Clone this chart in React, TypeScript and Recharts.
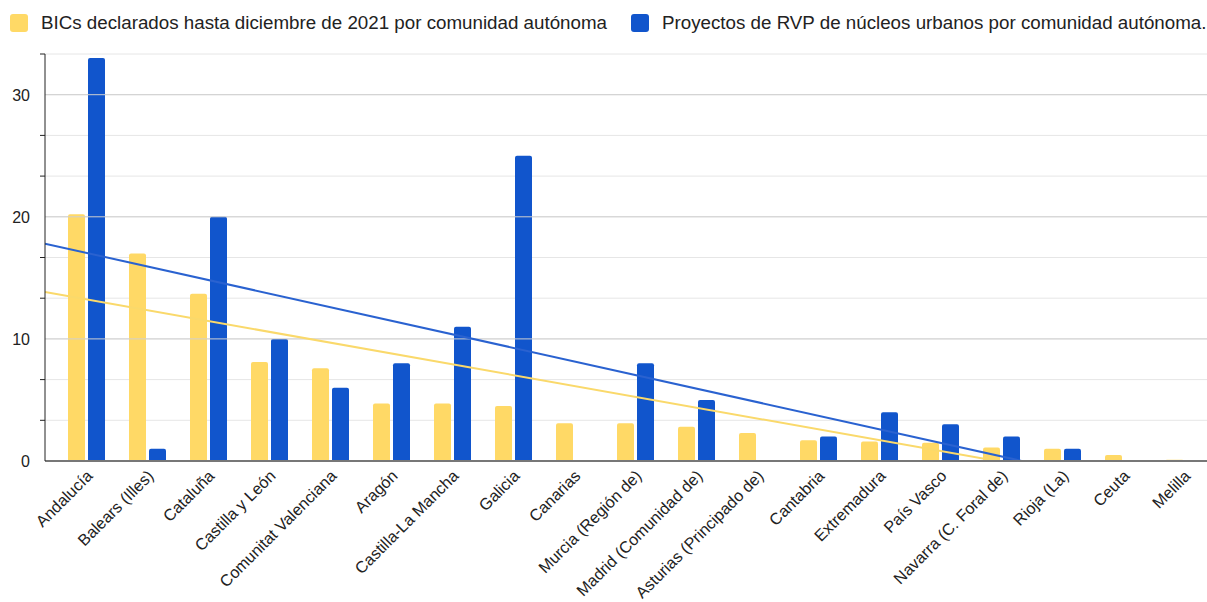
import {
    Bar,
    CartesianGrid,
    ComposedChart,
    Line,
    ReferenceLine,
    XAxis,
    YAxis,
} from "recharts";

// comunidades autónomas, en el orden del gráfico
const comunidades = [
    "Andalucía",
    "Balears (Illes)",
    "Cataluña",
    "Castilla y León",
    "Comunitat Valenciana",
    "Aragón",
    "Castilla-La Mancha",
    "Galicia",
    "Canarias",
    "Murcia (Región de)",
    "Madrid (Comunidad de)",
    "Asturias (Principado de)",
    "Cantabria",
    "Extremadura",
    "País Vasco",
    "Navarra (C. Foral de)",
    "Rioja (La)",
    "Ceuta",
    "Melilla",
];

const bics = [20.2, 17, 13.7, 8.1, 7.6, 4.7, 4.7, 4.5, 3.1, 3.1, 2.8, 2.3, 1.7, 1.6, 1.5, 1.1, 1.0, 0.5, 0.1];
const rvp = [33, 1, 20, 10, 6, 8, 11, 25, 0, 8, 5, 0, 2, 4, 3, 2, 1, 0, 0];

// líneas de tendencia: extremos sobre el índice de categoría
const trendX = [-0.68, 18.5];
const bicsTrend = [13.84, -3.17];
const rvpTrend = [17.8, -3.52];

const yTicks = [0, 10 / 3, 20 / 3, 10, 40 / 3, 50 / 3, 20, 70 / 3, 80 / 3, 30, 100 / 3];
const yLabels = [0, 10, 20, 30];

const BICS_LABEL = "BICs declarados hasta diciembre de 2021 por comunidad autónoma";
const RVP_LABEL = "Proyectos de RVP de núcleos urbanos por comunidad autónoma.";

const YELLOW = "#FFD966";
const BLUE = "#1155CC";
const FONT = "Arial, 'Liberation Sans', sans-serif";

const data = comunidades.map((name, i) => ({ name, bics: bics[i], rvp: rvp[i] }));
const trendData = trendX.map((x, i) => ({ x, bics: bicsTrend[i], rvp: rvpTrend[i] }));

const YTick = (props: any) => {
    const { x, y, payload } = props;
    const v = payload.value;
    const major = yLabels.find((l) => Math.abs(l - v) < 0.01);
    if (major !== undefined) {
        return (
            <text x={x} y={y} dy={6} textAnchor="end" fill="#222" fontSize={16} fontFamily={FONT}>
                {major}
            </text>
        );
    }
    return <line x1={x + 10} x2={x + 15} y1={y} y2={y} stroke="#222" strokeWidth={1} />;
};

const XTick = (props: any) => {
    const { x, y, payload } = props;
    return (
        <g transform={`translate(${x + 7},${y + 16})`}>
            <text textAnchor="end" transform="rotate(-45)" fill="#222" fontSize={16.2} fontFamily={FONT}>
                {payload.value}
            </text>
        </g>
    );
};

const legendItems = [
    { label: BICS_LABEL, color: YELLOW, left: 10, textLeft: 41 },
    { label: RVP_LABEL, color: BLUE, left: 631, textLeft: 662 },
];

export default function App() {
    return (
        <div style={{ position: "absolute", left: 0, top: 0, width: 1207, height: 602, overflow: "hidden", background: "#fff" }}>
            {legendItems.map((item) => (
                <div key={item.label}>
                    <div
                        style={{
                            position: "absolute",
                            left: item.left,
                            top: 14,
                            width: 18,
                            height: 18,
                            borderRadius: 3,
                            background: item.color,
                        }}
                    />
                    <div
                        style={{
                            position: "absolute",
                            left: item.textLeft,
                            top: 11,
                            fontFamily: FONT,
                            fontSize: 18.75,
                            lineHeight: "24px",
                            color: "#222",
                            whiteSpace: "nowrap",
                        }}
                    >
                        {item.label}
                    </div>
                </div>
            ))}
            <div style={{ position: "absolute", left: 0, top: 0 }}>
                <ComposedChart
                    width={1222}
                    height={602}
                    data={data}
                    margin={{ top: 54, right: 7, bottom: 0, left: 0 }}
                    barSize={17}
                    barGap={3}
                >
                    <CartesianGrid vertical={false} stroke="#e6e6e6" />
                    <ReferenceLine y={10} stroke="#cfcfcf" />
                    <ReferenceLine y={20} stroke="#cfcfcf" />
                    <ReferenceLine y={30} stroke="#cfcfcf" />
                    <XAxis
                        dataKey="name"
                        interval={0}
                        height={141}
                        padding={{ left: 11, right: 0 }}
                        tickLine={false}
                        tickSize={0}
                        tickMargin={0}
                        axisLine={{ stroke: "#777", strokeWidth: 2 }}
                        tick={<XTick />}
                    />
                    <XAxis
                        xAxisId="trend"
                        type="number"
                        dataKey="x"
                        domain={[trendX[0], trendX[1]]}
                        allowDataOverflow
                        hide
                    />
                    <YAxis
                        type="number"
                        domain={[0, 100 / 3]}
                        ticks={yTicks}
                        interval={0}
                        allowDataOverflow
                        width={45}
                        tickSize={5}
                        tickMargin={10}
                        tickLine={false}
                        axisLine={{ stroke: "#222" }}
                        tick={<YTick />}
                    />
                    <Bar dataKey="bics" fill={YELLOW} radius={[2, 2, 0, 0]} isAnimationActive={false} />
                    <Bar dataKey="rvp" fill={BLUE} radius={[2, 2, 0, 0]} isAnimationActive={false} />
                    <Line
                        data={trendData}
                        xAxisId="trend"
                        dataKey="bics"
                        type="linear"
                        stroke="#FAD96B"
                        strokeWidth={2}
                        dot={false}
                        activeDot={false}
                        isAnimationActive={false}
                    />
                    <Line
                        data={trendData}
                        xAxisId="trend"
                        dataKey="rvp"
                        type="linear"
                        stroke="#2A62D0"
                        strokeWidth={2}
                        dot={false}
                        activeDot={false}
                        isAnimationActive={false}
                    />
                </ComposedChart>
            </div>
        </div>
    );
}
